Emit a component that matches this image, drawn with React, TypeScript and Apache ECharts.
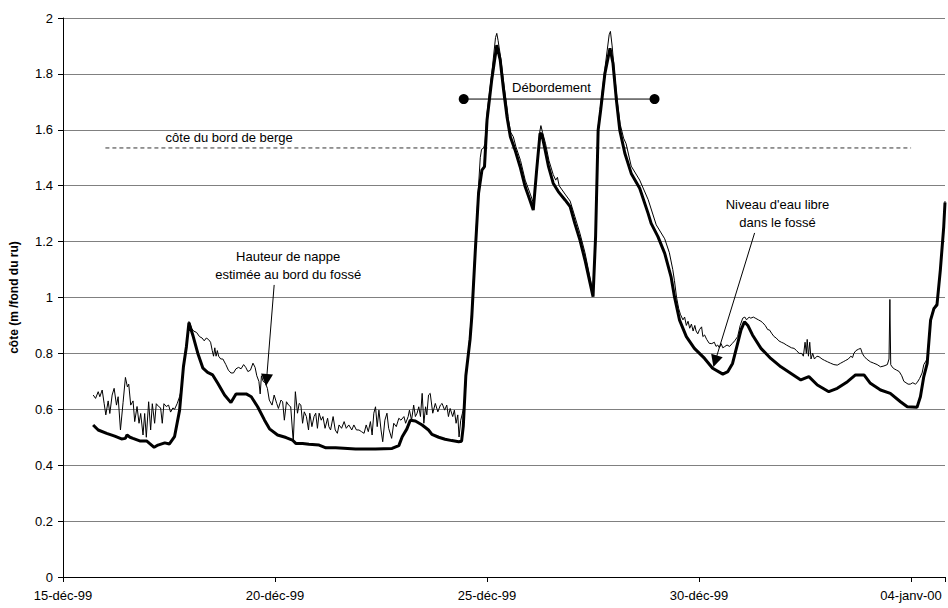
import React, { useEffect, useRef } from "react";
import * as echarts from "echarts";

// x = days since 15-déc-99 00:00
const dateLabels = ["15-déc-99", "20-déc-99", "25-déc-99", "30-déc-99", "04-janv-00"];
const yTitle = "côte (m /fond du ru)";
const xMax = 20.8;

const berge = [[1.0, 1.535], [20.0, 1.535]];
const debordement = [[9.45, 1.71], [13.95, 1.71]];

// Niveau d'eau libre dans le fossé (thick)
const niveauEau = [
  [0.71, 0.544], [0.83, 0.526], [1.03, 0.514], [1.22, 0.504], [1.38, 0.494], [1.47, 0.496], [1.51, 0.508],
  [1.58, 0.5], [1.65, 0.496], [1.81, 0.487], [1.97, 0.487], [2.04, 0.478], [2.15, 0.464], [2.24, 0.472],
  [2.4, 0.48], [2.51, 0.476], [2.63, 0.502], [2.75, 0.597], [2.84, 0.752], [2.91, 0.824], [2.97, 0.91],
  [3.06, 0.866], [3.18, 0.8], [3.3, 0.747], [3.41, 0.732], [3.53, 0.723], [3.65, 0.693], [3.81, 0.651],
  [3.96, 0.624], [4.08, 0.655], [4.32, 0.655], [4.44, 0.645], [4.59, 0.609], [4.75, 0.562], [4.87, 0.53],
  [5.06, 0.508], [5.26, 0.499], [5.41, 0.49], [5.49, 0.478], [5.65, 0.478], [5.8, 0.475], [6.04, 0.472],
  [6.2, 0.462], [6.43, 0.462], [6.9, 0.458], [7.37, 0.458], [7.76, 0.46], [7.92, 0.47], [8.0, 0.502],
  [8.11, 0.53], [8.19, 0.561], [8.31, 0.558], [8.47, 0.544], [8.62, 0.526], [8.7, 0.51], [8.86, 0.5],
  [9.01, 0.493], [9.17, 0.488], [9.33, 0.484], [9.4, 0.486], [9.44, 0.54], [9.5, 0.72], [9.6, 0.85],
  [9.64, 0.93], [9.72, 1.158], [9.8, 1.373], [9.88, 1.456], [9.94, 1.468], [10.0, 1.635], [10.11, 1.778],
  [10.23, 1.903], [10.31, 1.85], [10.39, 1.742], [10.47, 1.647], [10.55, 1.575], [10.66, 1.528],
  [10.78, 1.468], [10.9, 1.396], [11.01, 1.349], [11.09, 1.313], [11.17, 1.456], [11.25, 1.587],
  [11.29, 1.585], [11.37, 1.528], [11.45, 1.468], [11.56, 1.409], [11.68, 1.379], [11.84, 1.349],
  [11.96, 1.325], [12.07, 1.265], [12.19, 1.206], [12.31, 1.134], [12.43, 1.051], [12.5, 1.003],
  [12.56, 1.218], [12.62, 1.599], [12.68, 1.671], [12.78, 1.802], [12.9, 1.892], [12.97, 1.838],
  [13.05, 1.707], [13.13, 1.599], [13.25, 1.516], [13.4, 1.444], [13.6, 1.391], [13.8, 1.3],
  [13.87, 1.265], [14.03, 1.218], [14.19, 1.158], [14.34, 1.074], [14.42, 1.003], [14.54, 0.919],
  [14.7, 0.86], [14.89, 0.818], [15.13, 0.782], [15.32, 0.747], [15.56, 0.726], [15.68, 0.735],
  [15.79, 0.764], [15.91, 0.836], [15.99, 0.884], [16.07, 0.913], [16.15, 0.9], [16.26, 0.866],
  [16.46, 0.818], [16.69, 0.782], [16.93, 0.752], [17.16, 0.729], [17.4, 0.705], [17.59, 0.717],
  [17.79, 0.687], [18.06, 0.663], [18.26, 0.675], [18.5, 0.699], [18.69, 0.723], [18.89, 0.723],
  [19.04, 0.693], [19.28, 0.669], [19.51, 0.657], [19.75, 0.627], [19.91, 0.609], [20.14, 0.607],
  [20.22, 0.645], [20.3, 0.717], [20.38, 0.764], [20.46, 0.919], [20.54, 0.961], [20.61, 0.973],
  [20.69, 1.098], [20.77, 1.253], [20.8, 1.34],
];

// Hauteur de nappe estimée au bord du fossé (thin)
const nappe = [
  [0.713, 0.651], [0.768, 0.639], [0.83, 0.663], [0.869, 0.645], [0.924, 0.669], [0.971, 0.62],
  [1.01, 0.58], [1.065, 0.63], [1.104, 0.585], [1.159, 0.651], [1.206, 0.675], [1.261, 0.615],
  [1.3, 0.645], [1.355, 0.526], [1.417, 0.625], [1.472, 0.714], [1.519, 0.68], [1.55, 0.69],
  [1.597, 0.615], [1.652, 0.63], [1.691, 0.556], [1.746, 0.61], [1.793, 0.55], [1.832, 0.585],
  [1.887, 0.508], [1.926, 0.585], [1.965, 0.5], [2.02, 0.627], [2.067, 0.526], [2.106, 0.62],
  [2.161, 0.55], [2.2, 0.62], [2.255, 0.61], [2.302, 0.605], [2.341, 0.55], [2.38, 0.62],
  [2.435, 0.61], [2.49, 0.615], [2.537, 0.59], [2.592, 0.605], [2.631, 0.6], [2.694, 0.621],
  [2.749, 0.645], [2.788, 0.669], [2.84, 0.76], [2.91, 0.83], [2.97, 0.914], [3.0, 0.905],
  [3.03, 0.89], [3.08, 0.88], [3.15, 0.875], [3.22, 0.86], [3.28, 0.855], [3.33, 0.845],
  [3.38, 0.855], [3.43, 0.85], [3.48, 0.84], [3.52, 0.81], [3.55, 0.79], [3.58, 0.82], [3.61, 0.79],
  [3.64, 0.81], [3.67, 0.79], [3.72, 0.78], [3.77, 0.78], [3.84, 0.76], [3.9, 0.74], [3.96, 0.73],
  [4.02, 0.73], [4.08, 0.745], [4.14, 0.75], [4.2, 0.745], [4.26, 0.76], [4.31, 0.75], [4.36, 0.735],
  [4.42, 0.74], [4.48, 0.765], [4.53, 0.75], [4.57, 0.72], [4.62, 0.7], [4.65, 0.655], [4.68, 0.72],
  [4.72, 0.7], [4.77, 0.695], [4.82, 0.675], [4.865, 0.633], [4.93, 0.615], [4.98, 0.651],
  [5.04, 0.621], [5.08, 0.603], [5.14, 0.633], [5.18, 0.627], [5.22, 0.561], [5.27, 0.627],
  [5.32, 0.615], [5.37, 0.609], [5.43, 0.484], [5.48, 0.663], [5.53, 0.586], [5.57, 0.621],
  [5.61, 0.615], [5.65, 0.55], [5.69, 0.591], [5.74, 0.574], [5.79, 0.526], [5.82, 0.586],
  [5.87, 0.538], [5.92, 0.574], [5.96, 0.586], [6.0, 0.532], [6.04, 0.586], [6.09, 0.561],
  [6.13, 0.574], [6.18, 0.532], [6.24, 0.568], [6.27, 0.538], [6.31, 0.526], [6.37, 0.574],
  [6.42, 0.526], [6.47, 0.514], [6.51, 0.544], [6.57, 0.532], [6.63, 0.556], [6.68, 0.532],
  [6.74, 0.544], [6.81, 0.526], [6.86, 0.544], [6.92, 0.526], [6.98, 0.526], [7.04, 0.52],
  [7.1, 0.514], [7.15, 0.544], [7.2, 0.52], [7.25, 0.556], [7.29, 0.508], [7.33, 0.586],
  [7.37, 0.609], [7.41, 0.538], [7.45, 0.597], [7.5, 0.526], [7.54, 0.484], [7.59, 0.561],
  [7.64, 0.586], [7.68, 0.532], [7.75, 0.496], [7.8, 0.55], [7.86, 0.538], [7.92, 0.568],
  [7.97, 0.561], [8.04, 0.574], [8.08, 0.55], [8.14, 0.574], [8.17, 0.597], [8.22, 0.561],
  [8.27, 0.615], [8.31, 0.574], [8.35, 0.586], [8.39, 0.609], [8.43, 0.574], [8.47, 0.657],
  [8.51, 0.55], [8.55, 0.609], [8.58, 0.58], [8.62, 0.651], [8.66, 0.657], [8.72, 0.586],
  [8.78, 0.621], [8.84, 0.591], [8.9, 0.615], [8.94, 0.621], [9.0, 0.597], [9.05, 0.615],
  [9.09, 0.574], [9.13, 0.603], [9.19, 0.574], [9.23, 0.597], [9.27, 0.55], [9.31, 0.58],
  [9.34, 0.501], [9.38, 0.561], [9.42, 0.586], [9.47, 0.62], [9.52, 0.74], [9.58, 0.84],
  [9.64, 0.95], [9.72, 1.18], [9.8, 1.4], [9.84, 1.5], [9.87, 1.53], [9.92, 1.535], [9.95, 1.55],
  [10.0, 1.66], [10.11, 1.8], [10.2, 1.93], [10.23, 1.945], [10.26, 1.92], [10.32, 1.86],
  [10.4, 1.76], [10.48, 1.67], [10.5, 1.64], [10.56, 1.59], [10.62, 1.575], [10.68, 1.54],
  [10.79, 1.49], [10.9, 1.42], [11.02, 1.37], [11.1, 1.335], [11.18, 1.47], [11.24, 1.59],
  [11.27, 1.615], [11.31, 1.59], [11.38, 1.55], [11.46, 1.49], [11.56, 1.44], [11.62, 1.42],
  [11.66, 1.43], [11.7, 1.4], [11.84, 1.37], [11.96, 1.345], [12.07, 1.29], [12.19, 1.23],
  [12.31, 1.16], [12.43, 1.07], [12.5, 1.02], [12.56, 1.23], [12.62, 1.61], [12.68, 1.69],
  [12.78, 1.82], [12.88, 1.94], [12.91, 1.952], [12.95, 1.9], [13.02, 1.78], [13.08, 1.69],
  [13.14, 1.62], [13.22, 1.57], [13.28, 1.55], [13.4, 1.47], [13.6, 1.42], [13.8, 1.35],
  [13.99, 1.26], [14.19, 1.21], [14.3, 1.16], [14.38, 1.1], [14.42, 1.06], [14.47, 1.0],
  [14.52, 0.96], [14.56, 0.94], [14.62, 0.92], [14.66, 0.93], [14.7, 0.9], [14.74, 0.915],
  [14.78, 0.89], [14.82, 0.905], [14.86, 0.88], [14.9, 0.9], [14.93, 0.88], [14.97, 0.87],
  [15.01, 0.885], [15.06, 0.895], [15.09, 0.86], [15.13, 0.866], [15.18, 0.85], [15.24, 0.836],
  [15.3, 0.835], [15.36, 0.84], [15.4, 0.825], [15.44, 0.83], [15.48, 0.82], [15.52, 0.835],
  [15.56, 0.82], [15.6, 0.824], [15.66, 0.83], [15.72, 0.825], [15.78, 0.835], [15.84, 0.845],
  [15.91, 0.86], [15.97, 0.9], [16.03, 0.926], [16.08, 0.93], [16.12, 0.92], [16.18, 0.93],
  [16.22, 0.926], [16.28, 0.93], [16.34, 0.925], [16.4, 0.92], [16.46, 0.915], [16.5, 0.91],
  [16.56, 0.9], [16.62, 0.885], [16.66, 0.884], [16.72, 0.87], [16.77, 0.86], [16.82, 0.855],
  [16.88, 0.845], [16.94, 0.84], [17.0, 0.836], [17.06, 0.83], [17.12, 0.825], [17.18, 0.82],
  [17.24, 0.818], [17.3, 0.81], [17.36, 0.8], [17.42, 0.8], [17.46, 0.79], [17.5, 0.84],
  [17.53, 0.8], [17.55, 0.85], [17.58, 0.79], [17.61, 0.84], [17.64, 0.78], [17.68, 0.8],
  [17.72, 0.78], [17.78, 0.79], [17.83, 0.788], [17.9, 0.78], [17.96, 0.775], [18.03, 0.77],
  [18.1, 0.765], [18.18, 0.76], [18.26, 0.758], [18.34, 0.765], [18.4, 0.77], [18.46, 0.775],
  [18.52, 0.78], [18.58, 0.79], [18.62, 0.785], [18.65, 0.8], [18.7, 0.81], [18.76, 0.815],
  [18.81, 0.818], [18.85, 0.8], [18.89, 0.79], [18.95, 0.78], [19.04, 0.77], [19.12, 0.765],
  [19.2, 0.76], [19.28, 0.752], [19.36, 0.755], [19.44, 0.76], [19.48, 0.78], [19.5, 0.993],
  [19.52, 0.76], [19.55, 0.752], [19.6, 0.745], [19.66, 0.74], [19.72, 0.735], [19.78, 0.72],
  [19.83, 0.7], [19.88, 0.695], [19.93, 0.69], [19.98, 0.69], [20.04, 0.695], [20.1, 0.69],
  [20.14, 0.695], [20.2, 0.71], [20.26, 0.73], [20.3, 0.76], [20.34, 0.77], [20.38, 0.78],
  [20.46, 0.925], [20.54, 0.965], [20.61, 0.98], [20.69, 1.1], [20.77, 1.26], [20.8, 1.345],
];

// annotation anchors in data coordinates
const txtBerge = { label: "côte du bord de berge", at: [3.92, 1.574] };
const txtDebord = { label: "Débordement", at: [11.52, 1.75] };
const txtNappe = { label: "Hauteur de nappe\nestimée au bord du fossé", at: [5.31, 1.113] };
const txtNiveau = { label: "Niveau d'eau libre\ndans le fossé", at: [16.85, 1.302] };
const arrowNappe = [[4.98, 1.045], [4.8, 0.705]];
const arrowNiveau = [[16.31, 1.231], [15.38, 0.772]];

const FONT = 'Arial, "Liberation Sans", sans-serif';

export default function App() {
  const ref = useRef<HTMLDivElement>(null);
  useEffect(() => {
    if (!ref.current) return;
    const chart = echarts.init(ref.current, undefined, { renderer: "svg" });
    const option: any = {
      animation: false,
      backgroundColor: "#fff",
      textStyle: { fontFamily: FONT },
      grid: { left: 63, right: 0, top: 18, bottom: 31, containLabel: false },
      xAxis: {
        type: "value",
        min: 0,
        max: xMax,
        interval: 5,
        axisLine: { show: true, lineStyle: { color: "#000", width: 1 } },
        axisTick: { show: true, length: 5, lineStyle: { color: "#000" } },
        splitLine: { show: false },
        axisLabel: {
          color: "#000",
          fontSize: 13,
          fontFamily: FONT,
          margin: 12,
          formatter: (v: number) => {
            const i = Math.round(v / 5);
            return Math.abs(v - i * 5) < 1e-6 && i < dateLabels.length ? dateLabels[i] : "";
          },
        },
      },
      yAxis: {
        type: "value",
        min: 0,
        max: 2,
        interval: 0.2,
        name: yTitle,
        nameLocation: "middle",
        nameRotate: 90,
        nameGap: 43,
        nameTextStyle: { color: "#000", fontSize: 12, fontWeight: "bold", fontFamily: FONT },
        axisLine: { show: true, lineStyle: { color: "#000", width: 1 } },
        axisTick: { show: true, length: 5, lineStyle: { color: "#000" } },
        splitLine: { show: true, lineStyle: { color: "#808080", width: 1 } },
        axisLabel: { color: "#000", fontSize: 13, fontFamily: FONT, margin: 10 },
      },
      series: [
        {
          type: "line",
          data: berge,
          symbol: "none",
          lineStyle: { color: "#333", width: 1, type: [4, 3] },
          silent: true,
          markLine: {
            silent: true,
            symbol: ["none", "triangle"],
            symbolSize: 12,
            label: { show: false },
            lineStyle: { color: "#000", width: 1, type: "solid" },
            data: [
              [{ coord: arrowNappe[0] }, { coord: arrowNappe[1] }],
              [{ coord: arrowNiveau[0] }, { coord: arrowNiveau[1] }],
            ],
          },
        },
        {
          type: "line",
          data: nappe,
          symbol: "none",
          lineStyle: { color: "#000", width: 1 },
          silent: true,
        },
        {
          type: "line",
          data: niveauEau,
          symbol: "none",
          lineStyle: { color: "#000", width: 3 },
          silent: true,
        },
        {
          type: "line",
          data: debordement,
          symbol: "circle",
          symbolSize: 10,
          showAllSymbol: true,
          itemStyle: { color: "#000" },
          lineStyle: { color: "#000", width: 1 },
          silent: true,
        },
      ],
    };
    chart.setOption(option);
    const mk = (t: { label: string; at: number[] }) => {
      const p = chart.convertToPixel({ gridIndex: 0 }, t.at) as number[];
      return {
        type: "text",
        x: p[0],
        y: p[1],
        style: {
          text: t.label,
          fill: "#000",
          font: `13px ${FONT}`,
          align: "center",
          verticalAlign: "middle",
          lineHeight: 18,
        },
        silent: true,
      };
    };
    chart.setOption({ graphic: [mk(txtBerge), mk(txtDebord), mk(txtNappe), mk(txtNiveau)] });
    return () => chart.dispose();
  }, []);
  return (
    <div
      ref={ref}
      style={{ position: "absolute", left: 0, top: 0, width: 948, height: 608 }}
    />
  );
}
